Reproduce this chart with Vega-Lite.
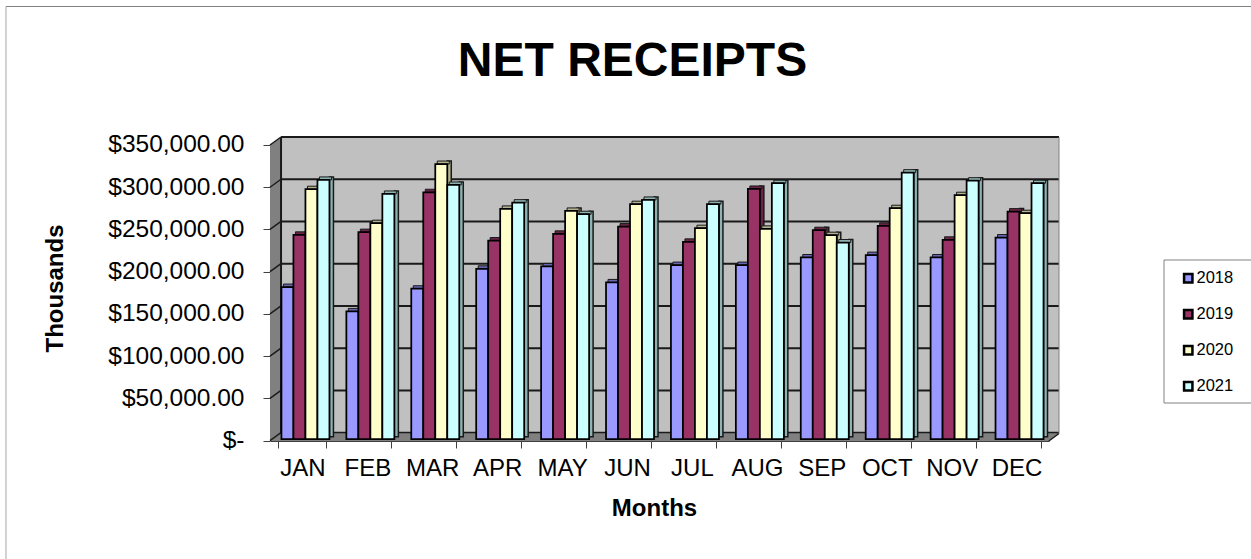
{"$schema":"https://vega.github.io/schema/vega-lite/v6.json","autosize":{"type":"none"},"padding":{"left":270,"top":136,"right":192,"bottom":118},"width":789,"height":305,"background":"#ffffff","config":{"view":{"stroke":null},"font":"Liberation Sans"},"title":{"text":"NET RECEIPTS","font":"Liberation Sans","fontSize":48,"fontWeight":"bold","color":"#000000","anchor":"middle","dx":-32,"offset":-80},"datasets":{"receipts":[{"month":"JAN","year":"2018","v":178300},{"month":"JAN","year":"2019","v":240100},{"month":"JAN","year":"2020","v":294100},{"month":"JAN","year":"2021","v":305100},{"month":"FEB","year":"2018","v":149500},{"month":"FEB","year":"2019","v":243300},{"month":"FEB","year":"2020","v":253900},{"month":"FEB","year":"2021","v":288500},{"month":"MAR","year":"2018","v":176300},{"month":"MAR","year":"2019","v":290500},{"month":"MAR","year":"2020","v":323900},{"month":"MAR","year":"2021","v":299100},{"month":"APR","year":"2018","v":199900},{"month":"APR","year":"2019","v":233400},{"month":"APR","year":"2020","v":270800},{"month":"APR","year":"2021","v":278200},{"month":"MAY","year":"2018","v":202700},{"month":"MAY","year":"2019","v":241300},{"month":"MAY","year":"2020","v":268400},{"month":"MAY","year":"2021","v":264500},{"month":"JUN","year":"2018","v":183800},{"month":"JUN","year":"2019","v":249900},{"month":"JUN","year":"2020","v":276400},{"month":"JUN","year":"2021","v":281400},{"month":"JUL","year":"2018","v":204300},{"month":"JUL","year":"2019","v":231800},{"month":"JUL","year":"2020","v":248000},{"month":"JUL","year":"2021","v":276400},{"month":"AUG","year":"2018","v":204300},{"month":"AUG","year":"2019","v":294400},{"month":"AUG","year":"2020","v":247200},{"month":"AUG","year":"2021","v":301200},{"month":"SEP","year":"2018","v":213300},{"month":"SEP","year":"2019","v":245600},{"month":"SEP","year":"2020","v":239700},{"month":"SEP","year":"2021","v":231000},{"month":"OCT","year":"2018","v":216100},{"month":"OCT","year":"2019","v":250700},{"month":"OCT","year":"2020","v":271600},{"month":"OCT","year":"2021","v":313700},{"month":"NOV","year":"2018","v":213300},{"month":"NOV","year":"2019","v":234200},{"month":"NOV","year":"2020","v":287000},{"month":"NOV","year":"2021","v":304200},{"month":"DEC","year":"2018","v":236900},{"month":"DEC","year":"2019","v":267600},{"month":"DEC","year":"2020","v":265700},{"month":"DEC","year":"2021","v":301200}],"grid":[{"v":0},{"v":50000},{"v":100000},{"v":150000},{"v":200000},{"v":250000},{"v":300000},{"v":350000}],"leftwall":[{"m":0,"hi":350000,"lo":-355},{"m":0.17,"hi":359460,"lo":8500}],"floor":[{"m":0,"hi":-355,"lo":-355},{"m":0.17,"hi":8500,"lo":-355},{"m":12,"hi":8500,"lo":-355},{"m":12.157,"hi":8500,"lo":8500}],"one":[{"k":1}]},"resolve":{"scale":{"x":"independent","xOffset":"independent","color":"independent"},"axis":{"x":"independent"}},"layer":[{"data":{"name":"one"},"mark":{"type":"rect","fill":"#C0C0C0"},"encoding":{"x":{"datum":0.17,"type":"quantitative","scale":{"domain":[0,12.157],"nice":false,"zero":false,"range":[0,789]},"axis":null},"x2":{"datum":12.157},"y":{"datum":359460,"type":"quantitative","scale":{"domain":[-355,360640],"nice":false,"zero":false,"range":[305,0]},"axis":{"values":[0,50000,100000,150000,200000,250000,300000,350000],"grid":false,"domain":false,"tickColor":"#404040","tickSize":7,"tickWidth":1,"labelFont":"Liberation Sans","labelFontSize":24.5,"labelColor":"#000000","labelPadding":19,"labelExpr":"datum.value === 0 ? '$-\u00a0\u00a0' : '$' + format(datum.value, ',.2f')","title":"Thousands","titleFont":"Liberation Sans","titleFontSize":24,"titleFontWeight":"bold","titleColor":"#000000","titleX":-215,"titleY":152,"titleAngle":270,"titleAlign":"center","titleBaseline":"middle"}},"y2":{"datum":8500}}},{"data":{"name":"grid"},"mark":{"type":"rule","stroke":"#1a1a1a","strokeWidth":2,"yOffset":-8},"encoding":{"x":{"datum":0.17,"type":"quantitative","scale":{"domain":[0,12.157],"nice":false,"zero":false,"range":[0,789]},"axis":null},"x2":{"datum":12.157},"y":{"field":"v","type":"quantitative","scale":{"domain":[-355,360640],"nice":false,"zero":false,"range":[305,0]}}}},{"data":{"name":"leftwall"},"mark":{"type":"area","fill":"#808080"},"encoding":{"x":{"field":"m","type":"quantitative","scale":{"domain":[0,12.157],"nice":false,"zero":false,"range":[0,789]},"axis":null},"y":{"field":"hi","type":"quantitative","scale":{"domain":[-355,360640],"nice":false,"zero":false,"range":[305,0]}},"y2":{"field":"lo"}}},{"data":{"name":"floor"},"mark":{"type":"area","fill":"#808080"},"encoding":{"x":{"field":"m","type":"quantitative","scale":{"domain":[0,12.157],"nice":false,"zero":false,"range":[0,789]},"axis":null},"y":{"field":"hi","type":"quantitative","scale":{"domain":[-355,360640],"nice":false,"zero":false,"range":[305,0]}},"y2":{"field":"lo"}}},{"data":{"name":"grid"},"mark":{"type":"rule","stroke":"#1a1a1a","strokeWidth":1.5,"y2Offset":-8},"encoding":{"x":{"datum":0,"type":"quantitative","scale":{"domain":[0,12.157],"nice":false,"zero":false,"range":[0,789]},"axis":null},"x2":{"datum":0.17},"y":{"field":"v","type":"quantitative","scale":{"domain":[-355,360640],"nice":false,"zero":false,"range":[305,0]}},"y2":{"field":"v"}}},{"data":{"name":"one"},"mark":{"type":"rule","stroke":"#1a1a1a","strokeWidth":2},"encoding":{"x":{"datum":0.17,"type":"quantitative","scale":{"domain":[0,12.157],"nice":false,"zero":false,"range":[0,789]},"axis":null},"y":{"datum":359460,"type":"quantitative","scale":{"domain":[-355,360640],"nice":false,"zero":false,"range":[305,0]}},"y2":{"datum":8500}}},{"data":{"name":"one"},"mark":{"type":"rule","stroke":"#1a1a1a","strokeWidth":1.5},"encoding":{"x":{"datum":12,"type":"quantitative","scale":{"domain":[0,12.157],"nice":false,"zero":false,"range":[0,789]},"axis":null},"x2":{"datum":12.157},"y":{"datum":-355,"type":"quantitative","scale":{"domain":[-355,360640],"nice":false,"zero":false,"range":[305,0]}},"y2":{"datum":8500}}},{"data":{"name":"one"},"mark":{"type":"rule","stroke":"#808080","strokeWidth":1},"encoding":{"x":{"datum":12.157,"type":"quantitative","scale":{"domain":[0,12.157],"nice":false,"zero":false,"range":[0,789]},"axis":null},"y":{"datum":359460,"type":"quantitative","scale":{"domain":[-355,360640],"nice":false,"zero":false,"range":[305,0]}},"y2":{"datum":8500}}},{"data":{"name":"receipts"},"mark":{"type":"bar","width":4,"yOffset":-6,"y2Offset":-4,"stroke":"#1a1a1a","strokeWidth":1.5},"encoding":{"x":{"field":"month","type":"nominal","sort":null,"scale":{"range":[0,779],"paddingInner":0.26,"paddingOuter":0.13},"axis":null},"xOffset":{"field":"year","type":"nominal","scale":{"range":[11,59]}},"y":{"field":"v","type":"quantitative","scale":{"domain":[-355,360640],"nice":false,"zero":false,"range":[305,0]}},"y2":{"datum":0},"color":{"field":"year","type":"nominal","scale":{"domain":["2018","2019","2020","2021"],"range":["#6666B3","#6B2447","#B3B38F","#8FB3B3"]},"legend":null}}},{"data":{"name":"receipts"},"mark":{"type":"bar","yOffset":-6,"y2Offset":-3,"stroke":"#1a1a1a","strokeWidth":1},"encoding":{"x":{"field":"month","type":"nominal","sort":null,"scale":{"range":[0,779],"paddingInner":0.26,"paddingOuter":0.13},"axis":null},"xOffset":{"field":"year","type":"nominal","scale":{"range":[5,53]}},"y":{"field":"v","type":"quantitative","scale":{"domain":[-355,360640],"nice":false,"zero":false,"range":[305,0]}},"y2":{"field":"v"},"color":{"field":"year","type":"nominal","scale":{"domain":["2018","2019","2020","2021"],"range":["#6666B3","#6B2447","#B3B38F","#8FB3B3"]},"legend":null}}},{"data":{"name":"receipts"},"mark":{"type":"bar","yOffset":-3,"y2Offset":-1.5,"stroke":"#000000","strokeWidth":1.75},"encoding":{"x":{"field":"month","type":"nominal","sort":null,"scale":{"range":[0,779],"paddingInner":0.26,"paddingOuter":0.13},"axis":{"title":"Months","titleFont":"Liberation Sans","titleFontSize":24,"titleFontWeight":"bold","titleColor":"#000000","titleX":384,"titleY":67,"titleBaseline":"middle","titleAlign":"center","labelFont":"Liberation Sans","labelFontSize":24,"labelColor":"#000000","labelAngle":0,"labelPadding":8,"tickBand":"extent","tickSize":7,"tickColor":"#404040","tickWidth":1,"domainColor":"#404040","domainWidth":1,"grid":false}},"xOffset":{"field":"year","type":"nominal","scale":{"range":[3,51]}},"y":{"field":"v","type":"quantitative","scale":{"domain":[-355,360640],"nice":false,"zero":false,"range":[305,0]}},"y2":{"datum":0},"color":{"field":"year","type":"nominal","scale":{"domain":["2018","2019","2020","2021"],"range":["#9999FF","#993366","#FFFFCC","#CCFFFF"]},"legend":{"orient":"none","legendX":910,"legendY":134,"title":null,"symbolType":"square","symbolSize":70,"symbolStrokeColor":"#000000","symbolStrokeWidth":2.5,"labelFont":"Liberation Sans","labelFontSize":16.5,"labelColor":"#000000","labelOffset":0,"rowPadding":17,"padding":0}}}},{"data":{"name":"one"},"mark":{"type":"rect","fillOpacity":0,"stroke":"#808080","strokeWidth":1},"encoding":{"x":{"datum":13.775,"type":"quantitative","scale":{"domain":[0,12.157],"nice":false,"zero":false,"range":[0,789]},"axis":null},"x2":{"datum":15.4},"y":{"datum":213880,"type":"quantitative","scale":{"domain":[-355,360640],"nice":false,"zero":false,"range":[305,0]}},"y2":{"datum":44620}}},{"data":{"name":"one"},"mark":{"type":"rule","stroke":"#808080","strokeWidth":1},"encoding":{"x":{"datum":-4.068,"type":"quantitative","scale":{"domain":[0,12.157],"nice":false,"zero":false,"range":[0,789]},"axis":null},"x2":{"datum":15.2},"y":{"datum":513900,"type":"quantitative","scale":{"domain":[-355,360640],"nice":false,"zero":false,"range":[305,0]}}}},{"data":{"name":"one"},"mark":{"type":"rule","stroke":"#A6A6A6","strokeWidth":1},"encoding":{"x":{"datum":-4.068,"type":"quantitative","scale":{"domain":[0,12.157],"nice":false,"zero":false,"range":[0,789]},"axis":null},"y":{"datum":513900,"type":"quantitative","scale":{"domain":[-355,360640],"nice":false,"zero":false,"range":[305,0]}},"y2":{"datum":-140000}}}]}
